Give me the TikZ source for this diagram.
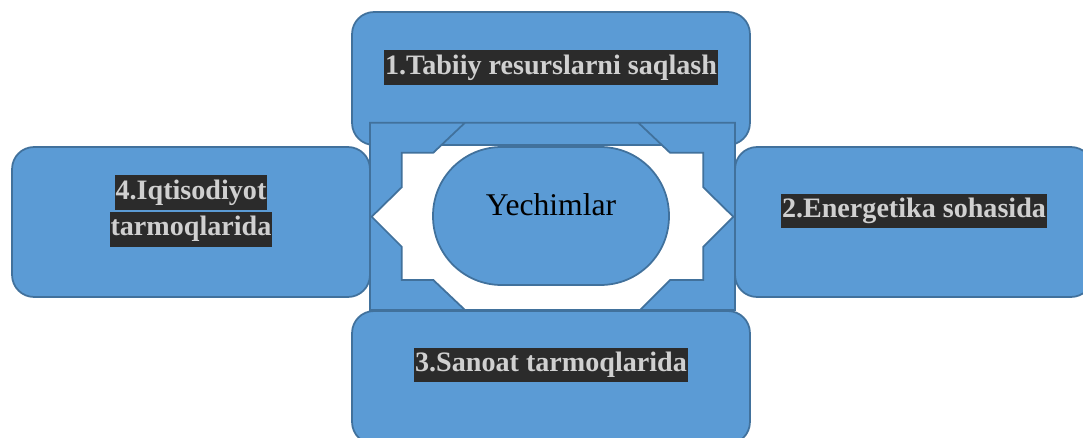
\documentclass[tikz,border=0pt]{standalone}
\usepackage{fontspec}
\setmainfont{Liberation Serif}
\usepackage{tikz}

\definecolor{boxblue}{HTML}{5B9BD5}
\definecolor{boxedge}{HTML}{41719C}
\definecolor{hlbg}{HTML}{2B2B2B}
\definecolor{hltext}{HTML}{D0D0D0}

\newcommand{\hlbox}[1]{{\setlength{\fboxsep}{0.4pt}\colorbox{hlbg}{\strut\textcolor{hltext}{#1}}}}

\tikzset{
  card/.style={shape=rectangle,draw=boxedge,fill=boxblue,line width=1pt,rounded corners=0.44cm},
  lbl/.style={inner sep=0pt,align=center,font=\fontsize{16}{19}\selectfont\bfseries},
}

\begin{document}
\begin{tikzpicture}[x=0.02cm,y=-0.02cm]
\useasboundingbox (0,0) rectangle (1083,437);

        \node[card,minimum width=7.96cm,minimum height=2.66cm] (b1) at (551, 78.5) {};
        \node[card,minimum width=7.16cm,minimum height=3cm] (b4) at (191, 222) {};
        \node[card,minimum width=7.16cm,minimum height=3cm] (b2) at (914, 222) {};

	% frame round the centre
	\path[draw=boxedge,fill=boxblue,line width=1pt,even odd rule]
	  (370,122.7) rectangle (735,310)
	  (465,122.7) -- (433.3,152.7) -- (401.7,152.7) -- (401.7,187.3) -- (371.7,216.7)
	  -- (401.7,246.7) -- (401.7,280) -- (433.3,280) -- (465,310) -- (640,310)
	  -- (670,280) -- (703.3,280) -- (703.3,246.7) -- (733.3,216.7) -- (703.3,187.3)
	  -- (703.3,152.7) -- (670,152.7) -- (638.3,122.7) -- cycle;

        \node[card,minimum width=7.96cm,minimum height=2.66cm] (b3) at (551, 377.5) {};
        \node[card,rounded corners=1.37cm,minimum width=4.72cm,minimum height=2.76cm] (c) at (551, 216) {};

	\node[lbl] (t1) at ([yshift=2.2mm]b1.center) {\hlbox{1.Tabiiy resurslarni saqlash}};
	\node[lbl] (t2) at ([yshift=2.2mm]b2.center) {\hlbox{2.Energetika sohasida}};
	\node[lbl] (t3) at ([yshift=2.5mm]b3.center) {\hlbox{3.Sanoat tarmoqlarida}};
	\node[lbl] (t4) at ([yshift=2.2mm]b4.center) {\hlbox{4.Iqtisodiyot}\\\hlbox{tarmoqlarida}};
	\node[font=\fontsize{18}{21}\selectfont] (tc) at ([yshift=2.2mm]c.center) {Yechimlar};
\end{tikzpicture}
\end{document}
